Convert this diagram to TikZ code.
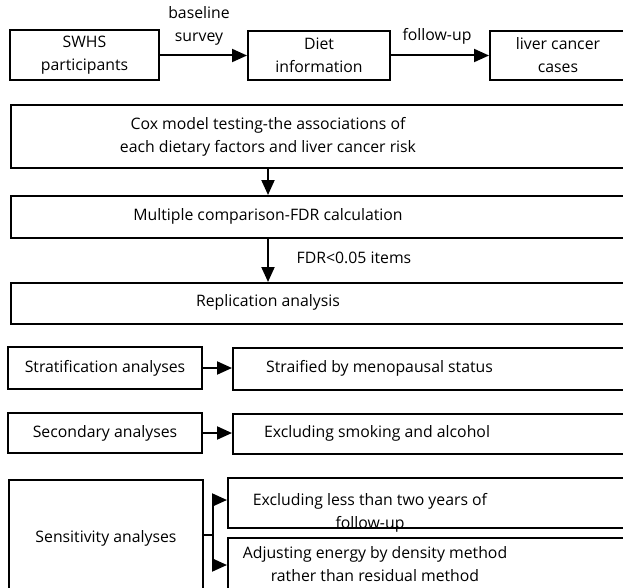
\documentclass[tikz,border=0pt]{standalone}
\usepackage{fontspec}
\setmainfont{Open Sans}
\usetikzlibrary{arrows.meta}

\begin{document}
\begin{tikzpicture}[x=1pt,y=-1pt,
  box/.style={draw,line width=2pt,align=center,inner sep=0pt,font=\fontsize{15.8}{23}\selectfont},
  frame/.style={draw,line width=2pt,inner sep=0pt,anchor=north west},
  txt/.style={align=center,inner sep=0pt,font=\fontsize{15.8}{23}\selectfont},
  arr/.style={line width=2pt,-{Triangle[length=15pt,width=13pt]}}]
\useasboundingbox[fill=white] (0,0) rectangle (623,588);
\clip (0,0) rectangle (623,588);

% cohort
\node[box,minimum width=149pt,minimum height=50pt] (swhs) at (84.5,55.5) {SWHS\\participants};
\node[box,minimum width=142pt,minimum height=49pt] (diet) at (319,55.5) {Diet\\information};
\node[box,minimum width=136pt,minimum height=49pt,anchor=west] (liver) at (489,55.5) {liver cancer\\cases};
\node[txt] (base) at (199,26) {baseline\\survey};
\node[txt] (fup) at (437,36) {follow-up};
\draw[arr] (swhs) -- (diet);
\draw[arr] (diet) -- (liver);

% main analysis
\node[frame,minimum width=630pt,minimum height=63pt] (coxfr) at (10,104) {};
\node[txt] (cox) at (268,136.5) {Cox model testing-the associations of\\each dietary factors and liver cancer risk};
\node[frame,minimum width=630pt,minimum height=42pt] (multfr) at (10,195) {};
\node[txt] (mult) at (268,216) {Multiple comparison-FDR calculation};
\node[frame,minimum width=630pt,minimum height=41pt] (replfr) at (10,282) {};
\node[txt] (repl) at (268,302.5) {Replication analysis};
\node[txt] (fdr) at (354,258) {FDR<0.05 items};
\draw[arr] (coxfr.south -| cox) -- (multfr.north -| mult);
\draw[arr] (multfr.south -| mult) -- (replfr.north -| repl);

% further analyses
\node[box,minimum width=194pt,minimum height=42pt] (strat) at (105,368) {Stratification analyses};
\node[frame,minimum width=420pt,minimum height=42pt] (stratfr) at (232,347) {};
\node[txt] (stratr) at (379.5,368) {Straified by menopausal status};
\draw[arr] (strat) -- (stratfr.west |- strat);

\node[box,minimum width=194pt,minimum height=40pt] (sec) at (105,433) {Secondary analyses};
\node[frame,minimum width=420pt,minimum height=40pt] (secfr) at (232,413) {};
\node[txt] (secr) at (377,433) {Excluding smoking and alcohol};
\draw[arr] (sec) -- (secfr.west |- sec);

\node[box,minimum width=194pt,minimum height=116pt,anchor=north west] (sens) at (8,479) {Sensitivity analyses};
\node[frame,minimum width=420pt,minimum height=50pt] (exfr) at (227,477) {};
\node[txt] (ex) at (370,512.5) {Excluding less than two years of\\follow-up};
\node[frame,minimum width=420pt,minimum height=56pt] (adfr) at (227,537) {};
\node[txt] (ad) at (375,564) {Adjusting energy by density method\\rather than residual method};
\coordinate (br) at (213,535);
\coordinate (bt) at (213,500);
\coordinate (bb) at (213,565);
\draw[line width=2pt] (sens.east |- br) -- (br);
\draw[line width=2pt] (bt) -- (bb);
\draw[arr] (bt) -- (exfr.west |- bt);
\draw[arr] (bb) -- (adfr.west |- bb);
\end{tikzpicture}
\end{document}
